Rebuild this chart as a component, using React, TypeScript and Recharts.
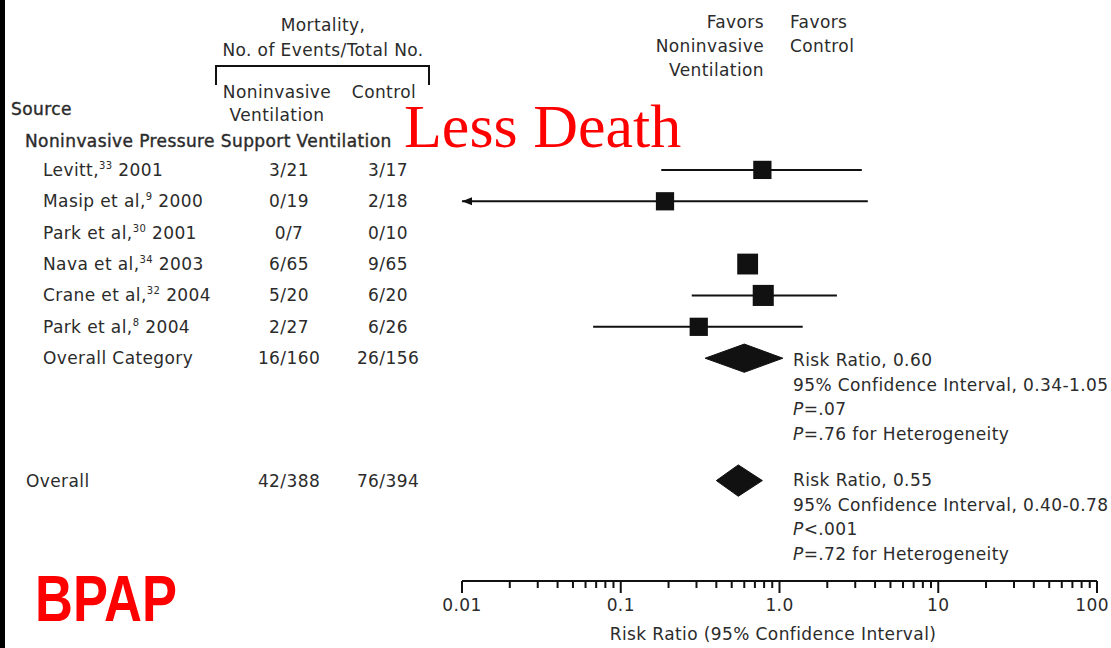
import { ComposedChart, Scatter, XAxis, YAxis } from "recharts";

// studies in the NPSV category (top to bottom)
const studyNames = ["Levitt,", "Masip et al,", "Park et al,", "Nava et al,", "Crane et al,", "Park et al,"];
const studyRefs = ["33", "9", "30", "34", "32", "8"];
const studyYears = ["2001", "2000", "2001", "2003", "2004", "2004"];
const nivEvents = ["3/21", "0/19", "0/7", "6/65", "5/20", "2/27"];
const ctrlEvents = ["3/17", "2/18", "0/10", "9/65", "6/20", "6/26"];
const riskRatio = [0.78, 0.19, null, 0.63, 0.79, 0.31];
const ciLow = [0.18, 0.004, null, null, 0.28, 0.067];
const ciHigh = [3.3, 3.6, null, null, 2.3, 1.4];
const weights = [7.2, 7.2, null, 9.4, 9.6, 7.2];

// pooled results: [low, estimate, high]
const categoryLabel = "Overall Category";
const categoryEvents = ["16/160", "26/156"];
const categoryRR = [0.34, 0.6, 1.05];
const overallLabel = "Overall";
const overallEvents = ["42/388", "76/394"];
const overallRR = [0.4, 0.55, 0.78];

const categoryStats = ["Risk Ratio, 0.60", "95% Confidence Interval, 0.34-1.05", "=.07", "=.76 for Heterogeneity"];
const overallStats = ["Risk Ratio, 0.55", "95% Confidence Interval, 0.40-0.78", "<.001", "=.72 for Heterogeneity"];

const majorTicks = [0.01, 0.1, 1, 10, 100];
const majorLabels = ["0.01", "0.1", "1.0", "10", "100"];
const minorSteps = [2, 3, 4, 5, 6, 7, 8, 9];

const X_MIN = 0.01;
const X_MAX = 100;
const CATEGORY_ROW = 6;
const OVERALL_ROW = 9.9;

const FONT = "'DejaVu Sans', sans-serif";
const FS = 17;
const LS = 0.4;
const TXT = "#2b2b2b";
const INK = "#111";

const allTicks = [
  ...majorTicks,
  ...majorTicks.slice(0, -1).flatMap((d) => minorSteps.map((m) => +(d * m).toPrecision(3))),
].sort((a, b) => a - b);

const diamond = (rr: number[], row: number, h: number) => [
  { x: rr[0], y: row },
  { x: rr[1], y: row - h },
  { x: rr[2], y: row },
  { x: rr[1], y: row + h },
  { x: rr[0], y: row },
];

const Empty = () => <g />;

const Square = (p: any) => {
  const s = 6.8 * Math.sqrt(p.payload.w);
  return <rect x={p.cx - s / 2} y={p.cy - s / 2} width={s} height={s} fill={INK} />;
};

const LeftArrow = (p: any) => (
  <polygon points={`${p.cx},${p.cy} ${p.cx + 10},${p.cy - 4} ${p.cx + 10},${p.cy + 4}`} fill={INK} />
);

function RowLabel({ y, payload }: any) {
  const v = payload.value;
  const ty = y + 6;
  let source: any;
  let ev: string[];
  if (v === CATEGORY_ROW) {
    source = <text x={43} y={ty}>{categoryLabel}</text>;
    ev = categoryEvents;
  } else if (v === OVERALL_ROW) {
    source = <text x={26} y={ty}>{overallLabel}</text>;
    ev = overallEvents;
  } else {
    const i = v as number;
    source = (
      <text x={43} y={ty}>
        {studyNames[i]}
        <tspan dy={-7} fontSize={10}>{studyRefs[i]}</tspan>
        <tspan dy={7}> {studyYears[i]}</tspan>
      </text>
    );
    ev = [nivEvents[i], ctrlEvents[i]];
  }
  return (
    <g fontFamily={FONT} fontSize={FS} letterSpacing={LS} fill={TXT}>
      {source}
      <text x={289} y={ty} textAnchor="middle">{ev[0]}</text>
      <text x={388} y={ty} textAnchor="middle">{ev[1]}</text>
    </g>
  );
}

function AxisTick({ x, y, payload }: any) {
  const v = payload.value;
  const mi = majorTicks.indexOf(v);
  const major = mi >= 0;
  const last = mi === majorTicks.length - 1;
  return (
    <g>
      <line x1={x} x2={x} y1={y} y2={y + (major ? 12 : 7)} stroke={INK} strokeWidth={2} />
      {major && (
        <text
          x={last ? x + 12 : x}
          y={y + 30}
          textAnchor={last ? "end" : "middle"}
          fontFamily={FONT}
          fontSize={FS}
          letterSpacing={LS}
          fill={TXT}
        >
          {majorLabels[mi]}
        </text>
      )}
    </g>
  );
}

function StatsBlock({ lines, y0 }: { lines: string[]; y0: number }) {
  return (
    <g>
      <text x={793} y={y0}>{lines[0]}</text>
      <text x={793} y={y0 + 24.5}>{lines[1]}</text>
      <text x={793} y={y0 + 49}>
        <tspan fontStyle="italic">P</tspan>
        {lines[2]}
      </text>
      <text x={793} y={y0 + 74}>
        <tspan fontStyle="italic">P</tspan>
        {lines[3]}
      </text>
    </g>
  );
}

export default function App() {
  const rowTicks = [...studyNames.map((_, i) => i), CATEGORY_ROW, OVERALL_ROW];
  const points = riskRatio
    .map((rr, i) => (rr == null ? null : { x: rr, y: i, w: weights[i] }))
    .filter(Boolean) as any[];
  const arrows = ciLow
    .map((lo, i) => (lo != null && lo < X_MIN ? { x: X_MIN, y: i } : null))
    .filter(Boolean) as any[];

  return (
    <div style={{ position: "absolute", left: 0, top: 0, width: 1111, height: 648, background: "#fff" }}>
      <ComposedChart width={1111} height={648} margin={{ top: 13, right: 14, bottom: 0, left: 0 }}>
        <XAxis
          type="number"
          dataKey="x"
          scale="log"
          domain={[X_MIN, X_MAX]}
          allowDataOverflow
          ticks={allTicks}
          interval={0}
          height={67}
          tickSize={0}
          tickMargin={0}
          tickLine={false}
          axisLine={{ stroke: INK, strokeWidth: 2 }}
          tick={AxisTick}
        />
        <YAxis
          type="number"
          dataKey="y"
          domain={[-5, 13.1]}
          reversed
          allowDataOverflow
          ticks={rowTicks}
          interval={0}
          width={462}
          axisLine={false}
          tickLine={false}
          tick={RowLabel}
        />
        {studyNames.map((_, i) =>
          ciLow[i] == null ? null : (
            <Scatter
              key={`ci-${i}`}
              data={[
                { x: Math.max(ciLow[i] as number, X_MIN), y: i },
                { x: ciHigh[i], y: i },
              ]}
              line={{ stroke: INK, strokeWidth: 2 }}
              shape={Empty}
              isAnimationActive={false}
            />
          )
        )}
        <Scatter data={arrows} shape={LeftArrow} isAnimationActive={false} />
        <Scatter data={points} shape={Square} isAnimationActive={false} />
        <Scatter
          data={diamond(categoryRR, CATEGORY_ROW, 0.45)}
          line={{ stroke: INK, fill: INK, strokeWidth: 1 }}
          shape={Empty}
          isAnimationActive={false}
        />
        <Scatter
          data={diamond(overallRR, OVERALL_ROW, 0.5)}
          line={{ stroke: INK, fill: INK, strokeWidth: 1 }}
          shape={Empty}
          isAnimationActive={false}
        />
      </ComposedChart>
      <svg
        width={1111}
        height={648}
        style={{ position: "absolute", left: 0, top: 0, pointerEvents: "none" }}
      >
        <rect x={0} y={0} width={5} height={648} fill="#000" />
        <g fontFamily={FONT} fontSize={FS} letterSpacing={LS} fill={TXT}>
          <text x={323} y={31} textAnchor="middle">Mortality,</text>
          <text x={323} y={56} textAnchor="middle">No. of Events/Total No.</text>
          <text x={277} y={98} textAnchor="middle">Noninvasive</text>
          <text x={277} y={121} textAnchor="middle">Ventilation</text>
          <text x={384} y={98} textAnchor="middle">Control</text>
          <text x={11} y={115} stroke={TXT} strokeWidth={0.4}>Source</text>
          <text x={25} y={147} stroke={TXT} strokeWidth={0.4}>Noninvasive Pressure Support Ventilation</text>
          <text x={764} y={28} textAnchor="end">Favors</text>
          <text x={764} y={52} textAnchor="end">Noninvasive</text>
          <text x={764} y={76} textAnchor="end">Ventilation</text>
          <text x={790} y={28}>Favors</text>
          <text x={790} y={52}>Control</text>
          <StatsBlock lines={categoryStats} y0={366} />
          <StatsBlock lines={overallStats} y0={486} />
          <text x={773} y={640} textAnchor="middle">Risk Ratio (95% Confidence Interval)</text>
        </g>
        <path d="M216,85 V66 H429 V85" fill="none" stroke={INK} strokeWidth={2} />
        <text x={404} y={147} fontFamily="'Liberation Serif', 'Times New Roman', serif" fontSize={62} fill="#ff0000">
          Less Death
        </text>
        <text
          x={35}
          y={621}
          fontFamily="'Liberation Sans', Arial, sans-serif"
          fontWeight="bold"
          fontSize={64}
          fill="#ff0000"
          textLength={142}
          lengthAdjust="spacingAndGlyphs"
        >
          BPAP
        </text>
      </svg>
    </div>
  );
}
